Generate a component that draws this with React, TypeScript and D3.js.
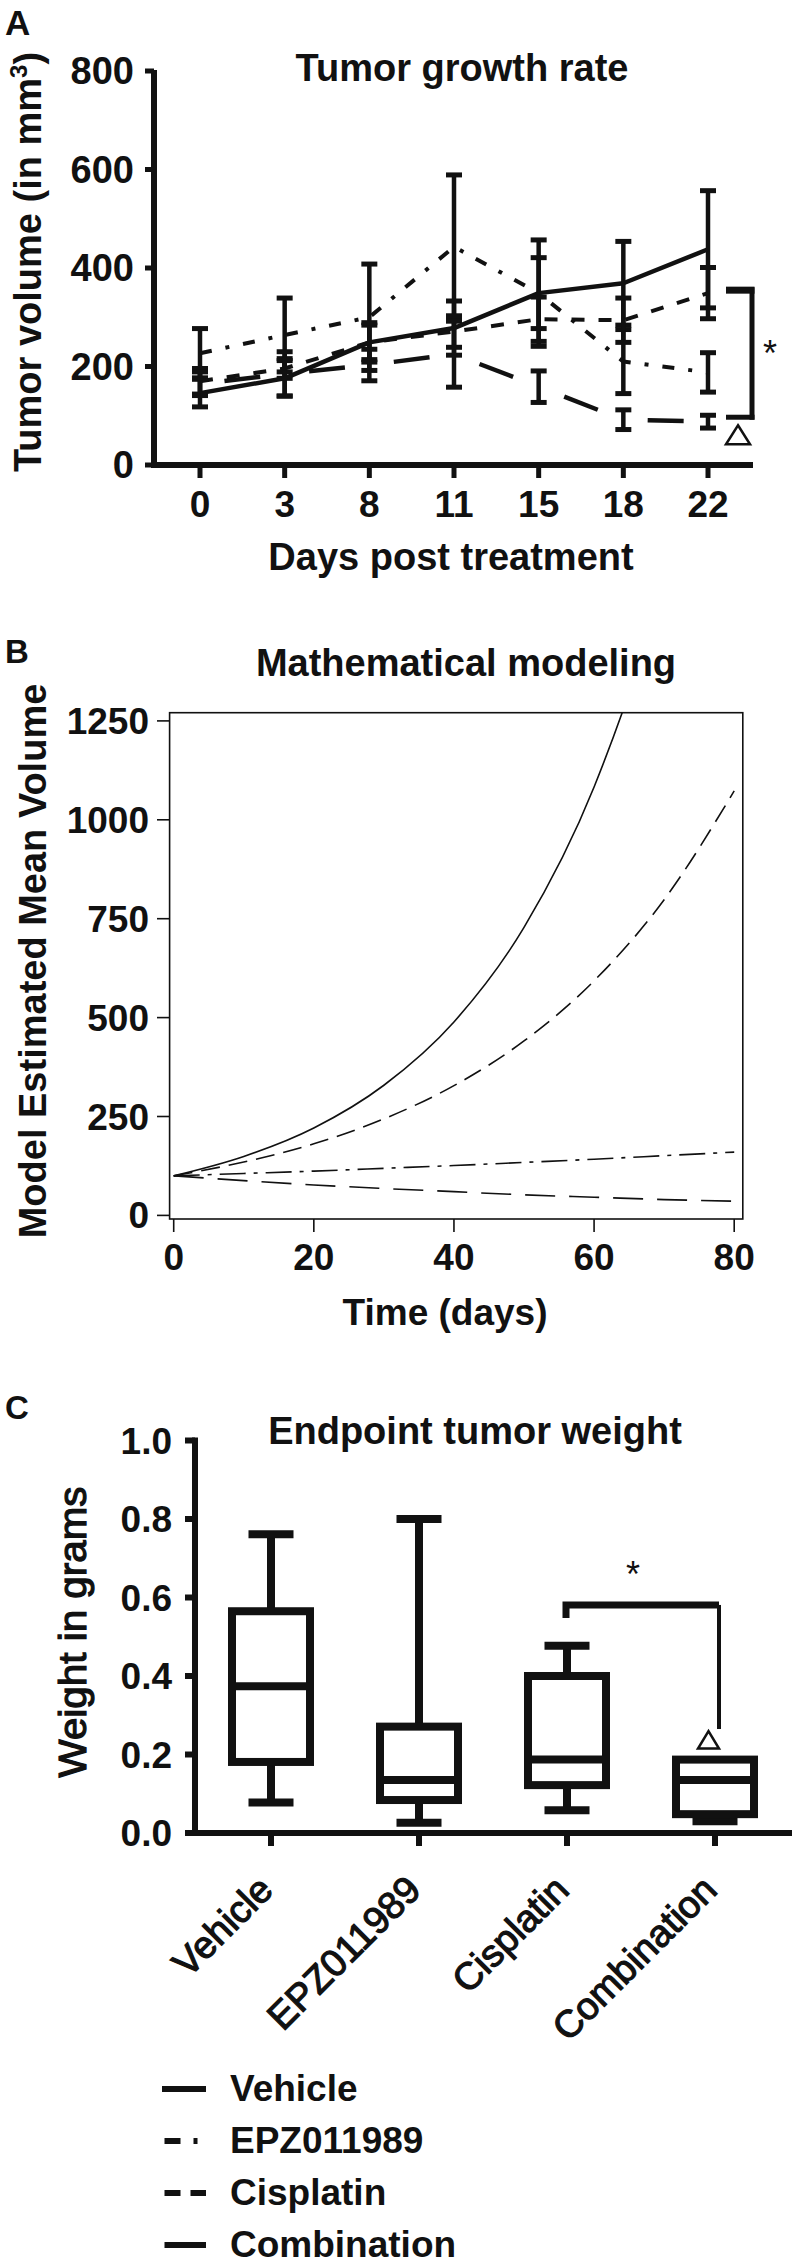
import React from 'react';
import * as d3 from 'd3';

// ---------- Panel A data ----------
const DAYS = ['0', '3', '8', '11', '15', '18', '22'];
const VEHICLE_MEAN = [146, 176, 249, 278, 349, 369, 438];
const VEHICLE_SEM = [28, 36, 35, 55, 108, 85, 119];
const EPZ_MEAN = [227, 264, 300, 443, 349, 210, 188];
const EPZ_SEM = [50, 75, 108, 146, 72, 65, 40];
const CIS_MEAN = [170, 196, 249, 271, 296, 294, 349];
const CIS_SEM = [26, 20, 40, 32, 45, 45, 52];
const COMB_MEAN = [165, 185, 203, 225, 159, 92, 88];
const COMB_SEM = [24, 45, 32, 67, 32, 20, 13];
const A_YTICKS = [0, 200, 400, 600, 800];
const A_BRACKET = [97, 355];

// ---------- Panel B data ----------
const MODEL_T = [0, 10, 20, 30, 40, 50, 60, 70, 80];
const VEH_MODEL = [100, 149, 221, 329, 489, 728, 1083, 1610, 2395];
const CIS_MODEL = [100, 135, 181, 244, 328, 441, 593, 798, 1073];
const EPZ_MODEL = [100, 106, 112, 119, 126, 134, 142, 151, 160];
const COMB_MODEL = [100, 88, 77, 68, 60, 52, 46, 40, 36];
const B_XTICKS = [0, 20, 40, 60, 80];
const B_YTICKS = [0, 250, 500, 750, 1000, 1250];

// ---------- Panel C data ----------
const GROUPS = ['Vehicle', 'EPZ011989', 'Cisplatin', 'Combination'];
const BOX_MIN = [0.078, 0.026, 0.058, 0.03];
const BOX_Q1 = [0.181, 0.084, 0.122, 0.048];
const BOX_MED = [0.374, 0.135, 0.187, 0.135];
const BOX_Q3 = [0.565, 0.271, 0.4, 0.187];
const BOX_MAX = [0.761, 0.8, 0.477, 0.187];
const C_YTICKS = [0, 0.2, 0.4, 0.6, 0.8, 1.0];
const C_BRACKET = 0.581;

const FONT = "'Liberation Sans', Arial, Helvetica, sans-serif";
const INK = '#111';

export default function App() {
  // ----- scales A -----
  const xA = d3.scalePoint<string>().domain(DAYS).range([200, 708]);
  const yA = d3.scaleLinear().domain([0, 800]).range([465, 71]);
  const lineA = d3
    .line<number>()
    .x((_, i) => xA(DAYS[i]) as number)
    .y((d) => yA(d));

  const seriesA = [
    { mean: VEHICLE_MEAN, dash: null as string | null, w: 4.5 },
    { mean: EPZ_MEAN, dash: '12,14,4,14', w: 4 },
    { mean: CIS_MEAN, dash: '13,14', w: 4 },
  ];

  // combination: one long dash centered on each segment
  const combSegs = COMB_MEAN.slice(1).map((v, i) => {
    const x1 = xA(DAYS[i]) as number;
    const y1 = yA(COMB_MEAN[i]);
    const x2 = xA(DAYS[i + 1]) as number;
    const y2 = yA(v);
    const L = Math.hypot(x2 - x1, y2 - y1);
    const ux = (x2 - x1) / L;
    const uy = (y2 - y1) / L;
    const mx = (x1 + x2) / 2;
    const my = (y1 + y2) / 2;
    return { x1: mx - 18 * ux, y1: my - 18 * uy, x2: mx + 18 * ux, y2: my + 18 * uy };
  });

  const errorBars = (mean: number[], sem: number[], key: string) =>
    mean.map((m, i) => {
      const x = xA(DAYS[i]) as number;
      const yt = yA(m + sem[i]);
      const yb = yA(m - sem[i]);
      return (
        <g key={key + i}>
          <line x1={x} x2={x} y1={yt} y2={yb} stroke={INK} strokeWidth={4.5} />
          <line x1={x - 8} x2={x + 8} y1={yt} y2={yt} stroke={INK} strokeWidth={5} />
          <line x1={x - 8} x2={x + 8} y1={yb} y2={yb} stroke={INK} strokeWidth={5} />
        </g>
      );
    });

  // ----- scales B -----
  const xB = d3.scaleLinear().domain([0, 80]).range([173.7, 734.2]);
  const yB = d3.scaleLinear().domain([0, 1250]).range([1215.4, 720.9]);
  const boxB = { x0: 169.6, x1: 742.8, y0: 712.7, y1: 1219 };
  const lineB = d3
    .line<number>()
    .x((_, i) => xB(MODEL_T[i]))
    .y((d) => yB(d))
    .curve(d3.curveMonotoneX);

  // ----- scales C -----
  const xC = d3.scalePoint<string>().domain(GROUPS).range([271, 715]);
  const yC = d3.scaleLinear().domain([0, 1]).range([1833, 1440.5]);
  const HB = 39;
  const HC = 22.5;

  const bold = { fontFamily: FONT, fontWeight: 700, fontSize: 37, fill: INK } as const;
  const medium = {
    fontFamily: FONT,
    fontWeight: 400,
    fontSize: 38,
    fill: INK,
    stroke: INK,
    strokeWidth: 1.2,
    paintOrder: 'stroke',
  } as const;

  return (
    <div style={{ position: 'absolute', left: 0, top: 0 }}>
      <svg width={794} height={2265} viewBox="0 0 794 2265" style={{ display: 'block', background: '#fff' }}>
        <rect x={0} y={0} width={794} height={2265} fill="#fff" />
        {/* ================= PANEL A ================= */}
        <text x={5} y={35} {...bold} fontSize={35}>A</text>
        <text x={462} y={81} {...bold} fontSize={38} textAnchor="middle">Tumor growth rate</text>

        {/* axes */}
        <line x1={154} x2={154} y1={yA(800) - 1} y2={468} stroke={INK} strokeWidth={6} />
        <line x1={151} x2={753} y1={465} y2={465} stroke={INK} strokeWidth={6} />
        {A_YTICKS.map((t) => (
          <g key={'ayt' + t}>
            <line x1={145} x2={154} y1={yA(t)} y2={yA(t)} stroke={INK} strokeWidth={5} />
            <text x={134} y={yA(t) + 13} {...bold} fontSize={38} textAnchor="end">{t}</text>
          </g>
        ))}
        {DAYS.map((d) => (
          <g key={'axt' + d}>
            <line x1={xA(d)} x2={xA(d)} y1={465} y2={478} stroke={INK} strokeWidth={5} />
            <text x={xA(d)} y={517} {...bold} textAnchor="middle">{d}</text>
          </g>
        ))}
        <text x={451} y={570} {...bold} fontSize={38} textAnchor="middle">Days post treatment</text>
        <text transform="translate(41,262) rotate(-90)" {...bold} fontSize={38} textAnchor="middle">
          Tumor volume (in mm<tspan dy={-14} fontSize={24}>3</tspan><tspan dy={14}>)</tspan>
        </text>

        {/* error bars */}
        {errorBars(EPZ_MEAN, EPZ_SEM, 'e')}
        {errorBars(VEHICLE_MEAN, VEHICLE_SEM, 'v')}
        {errorBars(CIS_MEAN, CIS_SEM, 'c')}
        {errorBars(COMB_MEAN, COMB_SEM, 'm')}

        {/* lines */}
        {seriesA.map((s, k) => (
          <path
            key={'sa' + k}
            d={lineA(s.mean) as string}
            fill="none"
            stroke={INK}
            strokeWidth={s.w}
            strokeDasharray={s.dash ?? undefined}
            strokeLinejoin="round"
          />
        ))}
        {combSegs.map((s, i) => (
          <line key={'cs' + i} x1={s.x1} y1={s.y1} x2={s.x2} y2={s.y2} stroke={INK} strokeWidth={4.5} />
        ))}

        {/* significance bracket */}
        <line x1={752} x2={752} y1={yA(A_BRACKET[1]) - 3} y2={yA(A_BRACKET[0]) + 2.5} stroke={INK} strokeWidth={5} />
        <line x1={726} x2={754.5} y1={yA(A_BRACKET[1])} y2={yA(A_BRACKET[1])} stroke={INK} strokeWidth={7} />
        <line x1={726} x2={754.5} y1={yA(A_BRACKET[0])} y2={yA(A_BRACKET[0])} stroke={INK} strokeWidth={5} />
        <text x={770} y={366} fontFamily={FONT} fontSize={36} textAnchor="middle" fill={INK}>*</text>
        <path d={`M738,${yA(A_BRACKET[0]) + 8} L750,${yA(A_BRACKET[0]) + 27} L726,${yA(A_BRACKET[0]) + 27} Z`} fill="#fff" stroke={INK} strokeWidth={2.5} strokeLinejoin="miter" />

        {/* ================= PANEL B ================= */}
        <text x={5} y={663} {...bold} fontSize={33}>B</text>
        <text x={466} y={676} {...bold} fontSize={38} textAnchor="middle">Mathematical modeling</text>
        <defs>
          <clipPath id="clipB">
            <rect x={boxB.x0} y={boxB.y0} width={boxB.x1 - boxB.x0} height={boxB.y1 - boxB.y0} />
          </clipPath>
        </defs>
        <rect x={boxB.x0} y={boxB.y0} width={boxB.x1 - boxB.x0} height={boxB.y1 - boxB.y0} fill="none" stroke={INK} strokeWidth={1.6} />
        {B_YTICKS.map((t) => (
          <g key={'byt' + t}>
            <line x1={157} x2={boxB.x0} y1={yB(t)} y2={yB(t)} stroke={INK} strokeWidth={1.6} />
            <text x={149} y={yB(t) + 13} {...bold} textAnchor="end">{t}</text>
          </g>
        ))}
        {B_XTICKS.map((t) => (
          <g key={'bxt' + t}>
            <line x1={xB(t)} x2={xB(t)} y1={boxB.y1} y2={1232} stroke={INK} strokeWidth={1.6} />
            <text x={xB(t)} y={1270} {...bold} textAnchor="middle">{t}</text>
          </g>
        ))}
        <text x={445} y={1325} {...bold} textAnchor="middle">Time (days)</text>
        <text transform="translate(46,961) rotate(-90)" {...bold} fontSize={38} textAnchor="middle">
          Model Estimated Mean Volume
        </text>
        <g clipPath="url(#clipB)" fill="none" stroke={INK} strokeWidth={1.6}>
          <path d={lineB(VEH_MODEL) as string} />
          <path d={lineB(CIS_MODEL) as string} strokeDasharray="19,9" />
          <path d={lineB(EPZ_MODEL) as string} strokeDasharray="26,8,4,8" />
          <path d={lineB(COMB_MODEL) as string} strokeDasharray="30,14" />
        </g>

        {/* ================= PANEL C ================= */}
        <text x={5} y={1419} {...bold} fontSize={33}>C</text>
        <text x={475} y={1444} {...bold} fontSize={38} textAnchor="middle">Endpoint tumor weight</text>
        <line x1={195} x2={195} y1={yC(1) - 3} y2={1836} stroke={INK} strokeWidth={6} />
        <line x1={192} x2={792} y1={1833} y2={1833} stroke={INK} strokeWidth={6} />
        {C_YTICKS.map((t) => (
          <g key={'cyt' + t}>
            <line x1={185} x2={195} y1={yC(t)} y2={yC(t)} stroke={INK} strokeWidth={6} />
            <text x={172} y={yC(t) + 13} {...bold} textAnchor="end">{t.toFixed(1)}</text>
          </g>
        ))}
        <text
          transform="translate(86,1632) rotate(-90)"
          {...medium}
          textAnchor="middle"
          textLength={291}
          lengthAdjust="spacingAndGlyphs"
        >
          Weight in grams
        </text>
        {GROUPS.map((g, i) => {
          const cx = xC(g) as number;
          return (
            <g key={'box' + g}>
              <line x1={cx} x2={cx} y1={1833} y2={1846} stroke={INK} strokeWidth={6} />
              {BOX_MAX[i] > BOX_Q3[i] && (
                <>
                  <line x1={cx} x2={cx} y1={yC(BOX_MAX[i])} y2={yC(BOX_Q3[i])} stroke={INK} strokeWidth={8} />
                  <line x1={cx - HC} x2={cx + HC} y1={yC(BOX_MAX[i])} y2={yC(BOX_MAX[i])} stroke={INK} strokeWidth={8} />
                </>
              )}
              <line x1={cx} x2={cx} y1={yC(BOX_Q1[i])} y2={yC(BOX_MIN[i])} stroke={INK} strokeWidth={8} />
              <line x1={cx - HC} x2={cx + HC} y1={yC(BOX_MIN[i])} y2={yC(BOX_MIN[i])} stroke={INK} strokeWidth={8} />
              <rect
                x={cx - HB}
                y={yC(BOX_Q3[i])}
                width={2 * HB}
                height={yC(BOX_Q1[i]) - yC(BOX_Q3[i])}
                fill="#fff"
                stroke={INK}
                strokeWidth={8}
              />
              <line x1={cx - HB} x2={cx + HB} y1={yC(BOX_MED[i])} y2={yC(BOX_MED[i])} stroke={INK} strokeWidth={8} />
              <text transform={`translate(${cx + 4},1892) rotate(-45)`} {...medium} textAnchor="end">
                {g}
              </text>
            </g>
          );
        })}
        {/* bracket C */}
        <path
          d={`M${(xC('Cisplatin') as number) - 1},${yC(0.548)} L${(xC('Cisplatin') as number) - 1},${yC(C_BRACKET)} L${(xC('Combination') as number) + 4},${yC(C_BRACKET)}`}
          fill="none"
          stroke={INK}
          strokeWidth={7}
        />
        <line
          x1={(xC('Combination') as number) + 4}
          x2={(xC('Combination') as number) + 4}
          y1={yC(C_BRACKET)}
          y2={yC(0.265)}
          stroke={INK}
          strokeWidth={4}
        />
        <text x={633} y={1587} fontFamily={FONT} fontSize={36} textAnchor="middle" fill={INK}>*</text>
        <path d={`M708.5,${yC(0.262) + 1} L719,${yC(0.215)} L698,${yC(0.215)} Z`} fill="#fff" stroke={INK} strokeWidth={2.5} />

        {/* legend */}
        {GROUPS.map((g, i) => {
          const y = 2089 + i * 52;
          const dash = i === 1 ? '16,13,4,20' : i === 2 ? '16,10,16' : undefined;
          return (
            <g key={'lg' + g}>
              <line x1={i === 0 ? 162 : 164.5} x2={206} y1={y} y2={y} stroke={INK} strokeWidth={6} strokeDasharray={dash} />
              <text x={230} y={y + 12} {...bold}>{g}</text>
            </g>
          );
        })}
      </svg>
    </div>
  );
}
